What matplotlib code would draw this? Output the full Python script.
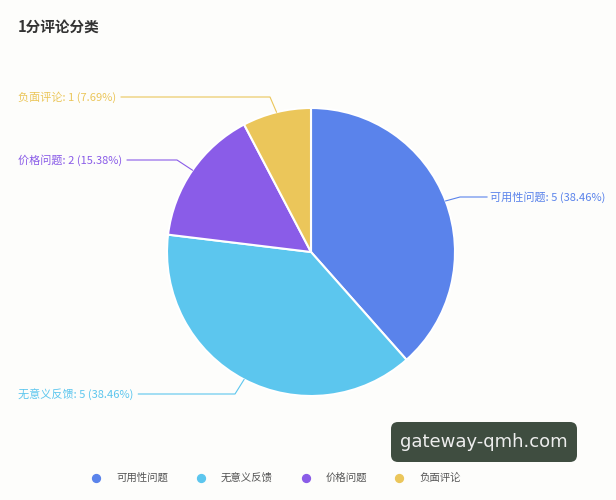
import numpy as np
import matplotlib
matplotlib.use("Agg")
import matplotlib.pyplot as plt
from matplotlib.patches import FancyBboxPatch

plt.rcParams["font.family"] = ["Noto Sans CJK SC", "DejaVu Sans"]

TITLE = "1分评论分类"
categories = ["可用性问题", "无意义反馈", "价格问题", "负面评论"]
counts = [5, 5, 2, 1]
colors = ["#5A83EB", "#5CC6EE", "#8A5CE8", "#EBC65A"]

W, H = 616, 500
BG = "#FDFDFB"

# layout in pixels (y measured from the bottom)
CX, CY, R = 311, 248, 144

fig = plt.figure(figsize=(W / 100, H / 100), dpi=100, facecolor=BG)
ax = fig.add_axes([0, 0, 1, 1])

wedges, _ = ax.pie(counts, colors=colors, startangle=90, counterclock=False,
                   center=(CX, CY), radius=R, frame=True,
                   wedgeprops=dict(edgecolor="white", linewidth=1.5))
ax.set_xlim(0, W)
ax.set_ylim(0, H)
ax.set_aspect("equal")
ax.axis("off")

total = sum(counts)
# per-label layout: (elbow x, elbow y, side)
label_layout = [
    (460, 303, "right"),
    (235, 106, "left"),
    (177, 340, "left"),
    (270, 403, "left"),
]

fig.canvas.draw()
renderer = fig.canvas.get_renderer()

for w, name, n, c, (ex, ey, side) in zip(wedges, categories, counts, colors, label_layout):
    mid = np.deg2rad((w.theta1 + w.theta2) / 2)
    px, py = CX + R * np.cos(mid), CY + R * np.sin(mid)
    txt = f"{name}: {n} ({n / total * 100:.2f}%)"
    if side == "right":
        tx = 490
        ax.text(tx, ey, txt, ha="left", va="center", fontsize=8, color=c)
        ax.plot([px, ex, tx - 3], [py, ey, ey], color=c, lw=0.8)
    else:
        t = ax.text(18, ey, txt, ha="left", va="center", fontsize=8, color=c)
        bb = t.get_window_extent(renderer)
        ax.plot([px, ex, bb.x1 + 5], [py, ey, ey], color=c, lw=0.8)

fig.text(18 / W, 1 - 27 / H, TITLE, ha="left", va="center", fontsize=10.5,
         fontweight="bold", color="#333333")

# legend
leg_x = [96, 201, 306, 399]
for x, name, c in zip(leg_x, categories, colors):
    ax.scatter([x], [H - 478], s=32, color=c, zorder=3)
    ax.text(x + 20, H - 478, name, ha="left", va="center", fontsize=7.5, color="#555555")

# watermark box
box = FancyBboxPatch((391, H - 462), 186, 40, boxstyle="round,pad=0,rounding_size=7",
                     facecolor="#3F4D40", edgecolor="none", zorder=5)
ax.add_patch(box)
ax.text(484, H - 442, "gateway-qmh.com", ha="center", va="center", fontsize=13,
        color="#EDEDED", family=["DejaVu Sans"], zorder=6)

fig.savefig("out.png", dpi=100, facecolor=BG)
